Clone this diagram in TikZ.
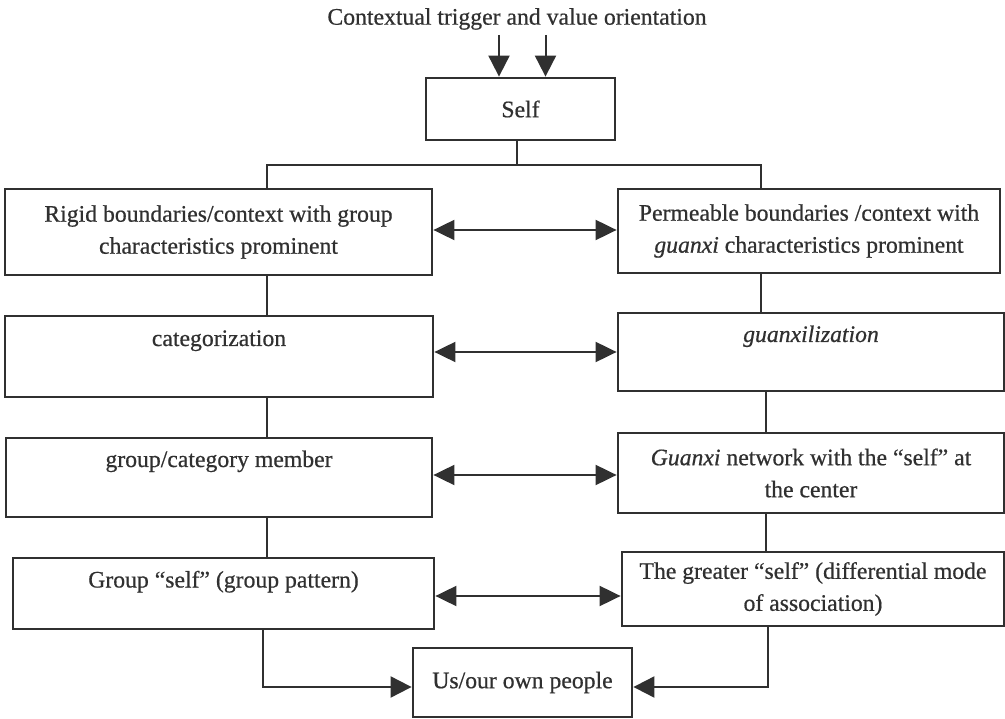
\documentclass[tikz,border=0pt]{standalone}
\usepackage{fontspec}
\setmainfont{Liberation Serif}[UprightFeatures={FakeBold=0.6},ItalicFeatures={FakeBold=0.6}]
\usetikzlibrary{arrows.meta}
\definecolor{ink}{HTML}{303030}
\begin{document}
\begin{tikzpicture}[x=1pt,y=-1pt,
  every node/.style={font=\fontsize{23.7}{32}\selectfont, text=ink},
  box/.style={draw=ink, line width=2.8pt, align=center, inner sep=0pt},
  toptext/.style={text height=15pt, text depth=#1},
  conn/.style={draw=ink, line width=2pt},
  tri/.style={-{Triangle[length=21pt,width=21pt]}},
  dbl/.style={{Triangle[length=21pt,width=20pt]}-{Triangle[length=21pt,width=20pt]}},
]
\useasboundingbox (0,0) rectangle (1005,719);

% title
\node (title) at (517,19) {Contextual trigger and value orientation};

% boxes
\node[box, minimum width=189pt, minimum height=62pt] (self) at (520.5,109) {Self};
\node[box, minimum width=427pt, minimum height=86pt] (L1) at (218.5,232)
  {Rigid boundaries/context with group\\characteristics prominent};
\node[box, minimum width=382pt, minimum height=84pt] (R1) at (809,231)
  {Permeable boundaries /context with\\\textit{guanxi} characteristics prominent};
\node[box, toptext=36pt, minimum width=428pt, minimum height=81pt] (L2) at (219,356.5)
  {categorization};
\node[box, toptext=35pt, minimum width=386pt, minimum height=78pt] (R2) at (811,352)
  {\textit{guanxilization}};
\node[box, toptext=36pt, minimum width=426pt, minimum height=79pt] (L3) at (219,477.5)
  {group/category member};
\node[box, minimum width=386pt, minimum height=80pt] (R3) at (811,473)
  {\textit{Guanxi} network with the “self” at\\the center};
\node[box, toptext=27pt, minimum width=421pt, minimum height=71pt] (L4) at (223.5,593.5)
  {Group “self” (group pattern)};
\node[box, minimum width=382pt, minimum height=74pt] (R4) at (813,589)
  {The greater “self” (differential mode\\of association)};
\node[box, minimum width=219pt, minimum height=69pt] (B) at (522.5,682.5)
  {Us/our own people};

% helper coordinates
\coordinate (ta1) at (499,35);
\coordinate (ta2) at (545.5,35);
\coordinate (top) at (517,165);
\coordinate (cl) at (267,0);
\coordinate (cl4) at (263,0);
\coordinate (cr1) at (761,0);
\coordinate (cr2) at (766,0);
\coordinate (cr4) at (768,0);
\coordinate (ybot) at (0,687);
\coordinate (a1) at (0,230);
\coordinate (a2) at (0,352);
\coordinate (a3) at (0,475);
\coordinate (a4) at (0,596);

% trigger arrows
\draw[conn, tri] (ta1) -- (self.north -| ta1);
\draw[conn, tri] (ta2) -- (self.north -| ta2);

% split from self
\draw[conn] (self.south -| top) -- (top);
\draw[conn] (L1.north -| cl) |- (top) -| (R1.north -| cr1);

% left chain
\draw[conn] (L1.south -| cl) -- (L2.north -| cl);
\draw[conn] (L2.south -| cl) -- (L3.north -| cl);
\draw[conn] (L3.south -| cl) -- (L4.north -| cl);
% right chain
\draw[conn] (R1.south -| cr1) -- (R2.north -| cr1);
\draw[conn] (R2.south -| cr2) -- (R3.north -| cr2);
\draw[conn] (R3.south -| cr2) -- (R4.north -| cr2);

% bi-directional arrows
\draw[conn, dbl] (L1.east |- a1) -- (R1.west |- a1);
\draw[conn, dbl] (L2.east |- a2) -- (R2.west |- a2);
\draw[conn, dbl] (L3.east |- a3) -- (R3.west |- a3);
\draw[conn, dbl] (L4.east |- a4) -- (R4.west |- a4);

% to bottom box
\draw[conn, tri] (L4.south -| cl4) |- (B.west |- ybot);
\draw[conn, tri] (R4.south -| cr4) |- (B.east |- ybot);
\end{tikzpicture}
\end{document}
